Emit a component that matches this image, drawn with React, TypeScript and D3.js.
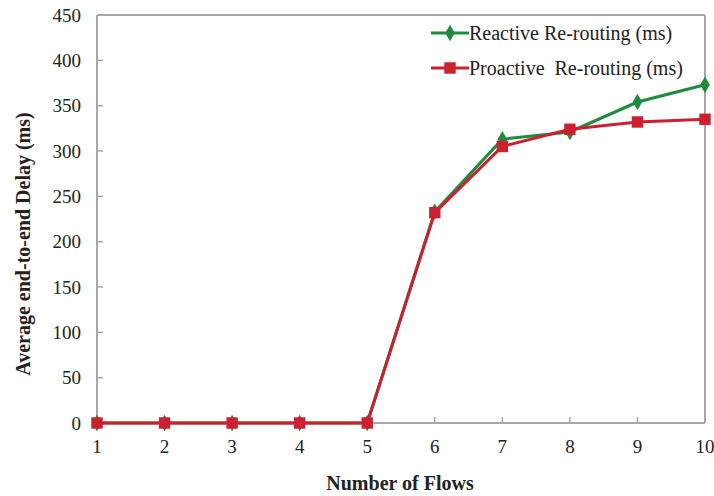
import React from "react";
import * as d3 from "d3";

const flows = [1, 2, 3, 4, 5, 6, 7, 8, 9, 10];
const reactive = [0, 0, 0, 0, 0, 233, 313, 321, 354, 373];
const proactive = [0, 0, 0, 0, 0, 232, 305, 324, 332, 335];
const yTicks = [0, 50, 100, 150, 200, 250, 300, 350, 400, 450];
const seriesNames = ["Reactive Re-routing (ms)", "Proactive\u00a0 Re-routing (ms)"];
const xTitle = "Number of Flows";
const yTitle = "Average end-to-end Delay (ms)";

const W = 714, H = 496;
const left = 97, right = 705, top = 15, bottom = 423;
const GREEN = "#1e8c3c";
const RED = "#cc2030";
const AXIS = "#a8a8a8";
const FONT = "'Liberation Serif', 'Times New Roman', serif";

export default function App() {
  const x = d3.scaleLinear().domain([1, 10]).range([left, right]);
  const y = d3.scaleLinear().domain([0, 450]).range([bottom, top]);
  const line = d3.line<number>().x((_, i) => x(flows[i])).y((v) => y(v));
  const diamond = d3.symbol().type(d3.symbolDiamond).size(80)();
  const square = d3.symbol().type(d3.symbolSquare).size(130)();

  return (
    <svg width={W} height={H} style={{ position: "absolute", left: 0, top: 0, background: "#fff" }}>
      <rect x={0} y={0} width={W} height={H} fill="#fff" />
      {/* frame */}
      <line x1={left} y1={top} x2={right} y2={top} stroke={AXIS} strokeWidth={2} />
      <line x1={right} y1={top} x2={right} y2={bottom} stroke={AXIS} strokeWidth={2} />
      <line x1={left} y1={top} x2={left} y2={bottom} stroke={AXIS} strokeWidth={2} />
      <line x1={left} y1={bottom} x2={right} y2={bottom} stroke={AXIS} strokeWidth={2} />
      {/* y ticks */}
      {yTicks.map((t) => (
        <g key={"y" + t}>
          <line x1={left} x2={left + 6} y1={y(t)} y2={y(t)} stroke={AXIS} strokeWidth={1.5} />
          <text x={left - 16} y={y(t)} dy="0.35em" textAnchor="end" fontFamily={FONT} fontSize={19} fill="#222">
            {t}
          </text>
        </g>
      ))}
      {/* x ticks */}
      {flows.map((f) => (
        <g key={"x" + f}>
          <line x1={x(f)} x2={x(f)} y1={bottom} y2={bottom - 6} stroke={AXIS} strokeWidth={1.5} />
          <text x={x(f)} y={bottom + 30} textAnchor="middle" fontFamily={FONT} fontSize={19} fill="#222">
            {f}
          </text>
        </g>
      ))}
      {/* titles */}
      <text x={400} y={490} textAnchor="middle" fontFamily={FONT} fontWeight="bold" fontSize={20} fill="#222">
        {xTitle}
      </text>
      <text
        transform={`translate(30,${244}) rotate(-90)`}
        textAnchor="middle"
        fontFamily={FONT}
        fontWeight="bold"
        fontSize={20}
        fill="#222"
      >
        {yTitle}
      </text>
      {/* series */}
      <path d={line(reactive) || ""} fill="none" stroke={GREEN} strokeWidth={3} />
      {reactive.map((v, i) => (
        <path key={"g" + i} d={diamond || ""} transform={`translate(${x(flows[i])},${y(v)})`} fill={GREEN} />
      ))}
      <path d={line(proactive) || ""} fill="none" stroke={RED} strokeWidth={3} />
      {proactive.map((v, i) => (
        <path key={"r" + i} d={square || ""} transform={`translate(${x(flows[i])},${y(v)})`} fill={RED} />
      ))}
      {/* legend */}
      <g>
        <line x1={431} x2={469} y1={33} y2={33} stroke={GREEN} strokeWidth={3} />
        <path d={diamond || ""} transform="translate(450,33)" fill={GREEN} />
        <text x={469} y={33} dy="0.35em" fontFamily={FONT} fontSize={20} fill="#222">
          {seriesNames[0]}
        </text>
        <line x1={431} x2={469} y1={68} y2={68} stroke={RED} strokeWidth={3} />
        <path d={square || ""} transform="translate(450,68)" fill={RED} />
        <text x={469} y={68} dy="0.35em" fontFamily={FONT} fontSize={20} fill="#222">
          {seriesNames[1]}
        </text>
      </g>
    </svg>
  );
}
